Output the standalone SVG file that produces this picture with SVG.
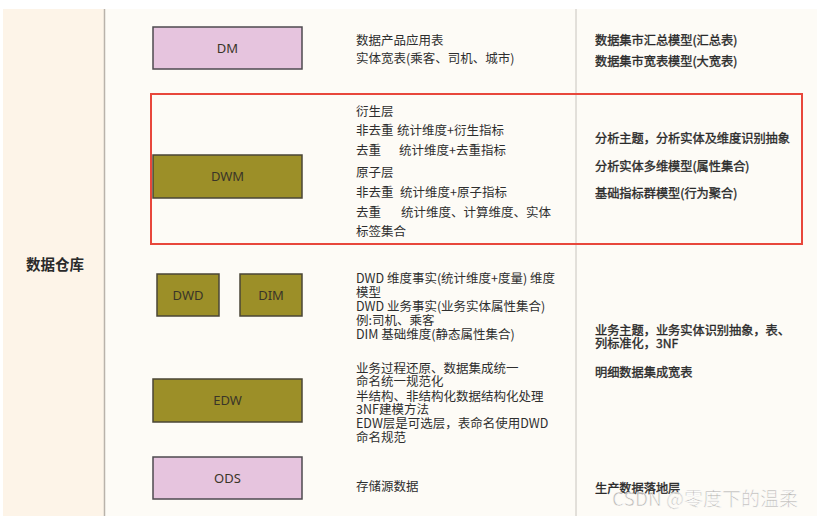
<svg xmlns="http://www.w3.org/2000/svg" width="817" height="519" viewBox="0 0 817 519">
<style>
.t{font-family:"Noto Sans CJK SC","Noto Sans",sans-serif;font-size:12.5px;fill:#2e2e2e}
.r{font-family:"Noto Sans CJK SC","Noto Sans",sans-serif;font-size:12.2px;fill:#2a2a2a;stroke:#2a2a2a;stroke-width:0.35}
.lbl{font-family:"Noto Sans","Noto Sans CJK SC",sans-serif;font-size:13px;fill:#3a3528;text-anchor:middle}
.pink{fill:#e6c4de;stroke:#4d4a4f;stroke-width:1.5}
.olive{fill:#9c8f28;stroke:#4a4636;stroke-width:1.5}
</style>
<rect x="0" y="0" width="817" height="519" fill="#ffffff"/>
<rect x="3" y="9" width="814" height="507" fill="#fdfbf6"/>
<rect x="3" y="9" width="101" height="507" fill="#fdf4e8"/>
<line x1="104.5" y1="9" x2="104.5" y2="516" stroke="#b9b2aa" stroke-width="1.5"/>
<line x1="576" y1="9" x2="576" y2="516" stroke="#c8c4be" stroke-width="1"/>
<text x="55" y="270" text-anchor="middle" style="font-family:'Noto Sans CJK SC',sans-serif;font-size:14.5px;font-weight:bold;fill:#2a2a2a">数据仓库</text>

<g id="DM"><rect class="pink" x="153" y="27" width="149" height="42"/><text class="lbl" x="227.5" y="53">DM</text></g>
<g id="DWM"><rect class="olive" x="153" y="155" width="149" height="43"/><text class="lbl" x="227.5" y="181">DWM</text></g>
<g id="DWD"><rect class="olive" x="157" y="274" width="62" height="42"/><text class="lbl" x="188" y="300">DWD</text></g>
<g id="DIM"><rect class="olive" x="240" y="274" width="62" height="42"/><text class="lbl" x="271" y="300">DIM</text></g>
<g id="EDW"><rect class="olive" x="153" y="379" width="149" height="43"/><text class="lbl" x="227.5" y="405">EDW</text></g>
<g id="ODS"><rect class="pink" x="153" y="457" width="149" height="42"/><text class="lbl" x="227.5" y="483">ODS</text></g>

<g id="highlight"><rect x="151" y="94" width="651" height="150" fill="none" stroke="#e8473b" stroke-width="2"/></g>

<g id="mid-text">
<text class="t" x="356" y="45">数据产品应用表</text>
<text class="t" x="356" y="63">实体宽表(乘客、司机、城市)</text>

<text class="t" x="356" y="116">衍生层</text>
<text class="t" x="356" y="135">非去重<tspan x="397">统计维度+衍生指标</tspan></text>
<text class="t" x="356" y="155">去重<tspan x="399">统计维度+去重指标</tspan></text>
<text class="t" x="356" y="177">原子层</text>
<text class="t" x="356" y="197">非去重<tspan x="400">统计维度+原子指标</tspan></text>
<text class="t" x="356" y="217">去重<tspan x="401">统计维度、计算维度、实体</tspan></text>
<text class="t" x="356" y="236">标签集合</text>

<text class="t" x="356" y="283">DWD 维度事实(统计维度+度量) 维度</text>
<text class="t" x="356" y="297">模型</text>
<text class="t" x="356" y="311">DWD 业务事实(业务实体属性集合)</text>
<text class="t" x="356" y="325">例:司机、乘客</text>
<text class="t" x="356" y="339">DIM 基础维度(静态属性集合)</text>

<text class="t" x="356" y="373">业务过程还原、数据集成统一</text>
<text class="t" x="356" y="386">命名统一规范化</text>
<text class="t" x="356" y="401">半结构、非结构化数据结构化处理</text>
<text class="t" x="356" y="414">3NF建模方法</text>
<text class="t" x="356" y="428">EDW层是可选层，表命名使用DWD</text>
<text class="t" x="356" y="442">命名规范</text>

<text class="t" x="356" y="491">存储源数据</text>
</g>

<g id="right-text">
<text class="r" x="595" y="45">数据集市汇总模型(汇总表)</text>
<text class="r" x="595" y="66">数据集市宽表模型(大宽表)</text>
<text class="r" x="595" y="143">分析主题，分析实体及维度识别抽象</text>
<text class="r" x="595" y="171">分析实体多维模型(属性集合)</text>
<text class="r" x="595" y="198">基础指标群模型(行为聚合)</text>
<text class="r" x="595" y="335">业务主题，业务实体识别抽象，表、</text>
<text class="r" x="595" y="348">列标准化，3NF</text>
<text class="r" x="595" y="377">明细数据集成宽表</text>
<text class="r" x="595" y="493">生产数据落地层</text>
</g>

<text x="612" y="506" style="font-family:'Noto Sans CJK SC',sans-serif;font-size:19px;fill:#b5b2ae;stroke:#ffffff;stroke-width:0.6;opacity:0.9">CSDN @零度下的温柔</text>
</svg>
